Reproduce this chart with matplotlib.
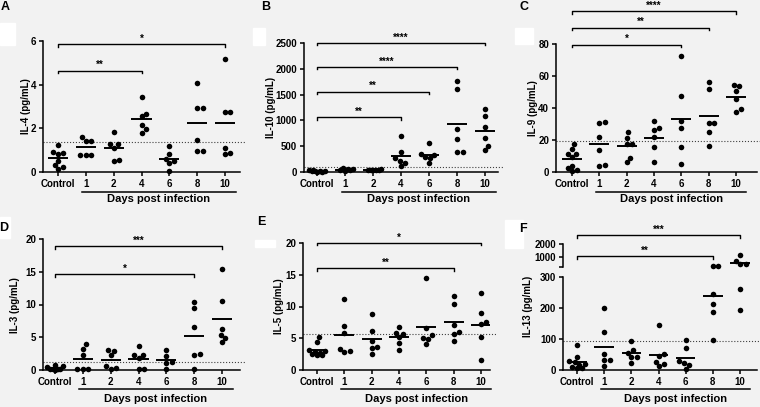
import numpy as np
import matplotlib
matplotlib.use("Agg")
import matplotlib.pyplot as plt
from matplotlib.patches import Rectangle
from matplotlib.transforms import blended_transform_factory

# x categories
days = ["Control", "1", "2", "4", "6", "8", "10"]

# values per group (Control, day 1, 2, 4, 6, 8, 10)
il4 = [[1.22, 0.90, 0.88, 0.84, 0.52, 0.32, 0.24, 0.12],
       [1.60, 1.41, 1.40, 0.80, 0.80, 0.80],
       [1.85, 1.26, 1.26, 1.08, 0.56, 0.50],
       [3.42, 2.66, 2.55, 2.13, 1.95, 1.79],
       [1.19, 0.81, 0.61, 0.50, 0.41, 0.05],
       [4.09, 2.95, 2.95, 1.47, 0.96, 0.96],
       [5.17, 2.77, 2.74, 1.12, 0.87, 0.81]]
il10 = [[40, 30, 25, 20, 15, 10, 8, 5],
        [70, 60, 50, 45, 30, 20],
        [55, 45, 45, 45, 30, 30],
        [695, 395, 265, 215, 175, 110],
        [570, 340, 330, 300, 270, 165],
        [1760, 1610, 825, 630, 395, 395],
        [1227, 1078, 870, 662, 513, 422]]
il9 = [[17.5, 14.3, 11.5, 11.5, 9.5, 4.0, 2.5, 1.0, 0.5],
       [31.0, 30.6, 21.6, 13.9, 4.4, 3.5],
       [24.7, 21.4, 17.7, 17.7, 8.9, 6.0],
       [31.6, 27.4, 26.0, 21.8, 15.4, 6.4],
       [72.8, 47.6, 31.8, 27.4, 15.6, 4.8],
       [56.3, 52.0, 30.4, 30.4, 24.9, 16.4],
       [54.3, 53.6, 50.9, 45.5, 39.1, 37.4]]
il3 = [[0.8, 0.6, 0.5, 0.2, 0.2, 0.1, 0.1, 0.05],
       [4.0, 3.27, 2.24, 0.1, 0.1, 0.1],
       [3.0, 2.9, 2.24, 0.66, 0.3, 0.15],
       [3.72, 2.3, 2.24, 1.89, 0.1, 0.1],
       [3.06, 2.14, 1.22, 1.02, 0.1],
       [10.4, 9.4, 6.6, 2.5, 2.3, 0.1],
       [15.4, 10.5, 6.3, 5.4, 4.9, 4.2]]
il5 = [[5.2, 4.4, 3.2, 3.0, 2.8, 2.6, 2.5, 2.4, 2.3],
       [11.16, 6.9, 5.8, 3.3, 3.0, 2.8],
       [8.8, 6.2, 4.6, 3.6, 3.4, 2.5],
       [6.7, 5.9, 5.7, 5.2, 4.3, 3.16],
       [14.5, 6.6, 5.5, 5.0, 4.9, 4.1],
       [11.7, 10.4, 7.1, 6.05, 5.7, 4.5],
       [12.1, 9.05, 7.5, 7.3, 5.16, 1.6]]
il13 = [[80, 42, 28, 25, 20, 15, 10, 8, 5],
        [200, 122, 53, 33, 33, 12],
        [92, 64, 56, 43, 43, 23],
        [146, 50, 46, 27, 18, 12],
        [98, 72, 29, 24, 16, 2],
        [375, 325, 243, 212, 186, 96],
        [1200, 750, 500, 500, 260, 193]]

# detection limits (dotted lines)
limits = {"A": 1.38, "B": 104, "C": 19.5, "D": 1.17, "E": 5.63, "F": 92}

# significance brackets: (group a, group b, height, stars)
sig_a = [(0, 3, 4.64, "**"), (0, 6, 5.85, "*")]
sig_b = [(0, 3, 1060, "**"), (0, 4, 1560, "**"), (0, 5, 2035, "****"), (0, 6, 2500, "****")]
sig_c = [(0, 4, 79.6, "*"), (0, 5, 90.2, "**"), (0, 6, 100.4, "****")]
sig_d = [(0, 5, 14.6, "*"), (0, 6, 18.9, "***")]
sig_e = [(0, 5, 16.05, "**"), (0, 6, 20.0, "*")]
sig_f = [(0, 5, 1090, "**"), (0, 6, 2620, "***")]

BG = "#f2f2f2"
W, H = 760, 407
plt.rcParams["font.family"] = ["Liberation Sans", "DejaVu Sans"]
plt.rcParams["font.weight"] = "bold"

fig = plt.figure(figsize=(7.6, 4.07), dpi=100, facecolor=BG)

# white patches present in the original scan
for x0, y0, x1, y1 in [(0, 23, 15, 45), (253, 28, 265, 45), (515, 28, 533, 44),
                       (0, 217, 10, 238), (255, 240, 275, 247), (505, 220, 523, 248)]:
    fig.patches.append(Rectangle((x0 / W, 1 - y1 / H), (x1 - x0) / W, (y1 - y0) / H,
                                 transform=fig.transFigure, color="white", zorder=0))


def make_axes(left, right, top, bottom, c0, c6):
    ax = fig.add_axes([left / W, 1 - bottom / H, (right - left) / W, (bottom - top) / H])
    sp = (c6 - c0) / 6
    ax.set_xlim((left - c0) / sp, (right - c0) / sp)
    ax.set_facecolor("none")
    for s in ["top", "right"]:
        ax.spines[s].set_visible(False)
    for s in ["left", "bottom"]:
        ax.spines[s].set_linewidth(1.1)
    ax.tick_params(axis="both", width=1.1, length=3, labelsize=7, pad=2)
    ax.set_xticks(range(len(days)))
    ax.set_xticklabels(days)
    return ax


def swarm_offsets(ax, x, vals, dmin=5.5, maxoff=8.0):
    pts = ax.transData.transform(np.column_stack([np.full(len(vals), x), vals]))
    ys = pts[:, 1]
    placed = []
    offs = np.zeros(len(vals))
    grid = np.arange(-maxoff, maxoff + 0.01, 0.5)
    for i in np.argsort(ys):
        y = ys[i]
        cands = [0.0]
        for px, py in placed:
            dy = y - py
            if abs(dy) < dmin:
                dx = np.sqrt(dmin ** 2 - dy ** 2)
                cands += [px + dx, px - dx]
        chosen = None
        for c in sorted(cands, key=abs):
            if abs(c) > maxoff + 1e-9:
                continue
            if all((c - px) ** 2 + (y - py) ** 2 >= dmin ** 2 - 1e-6 for px, py in placed):
                chosen = c
                break
        if chosen is None:
            chosen = max(grid, key=lambda c: min((c - px) ** 2 + (y - py) ** 2 for px, py in placed))
        offs[i] = chosen
        placed.append((chosen, y))
    unit = ax.transData.transform((1, 0))[0] - ax.transData.transform((0, 0))[0]
    return offs / unit


def dots(ax, i, vals):
    if len(vals) == 0:
        return
    off = swarm_offsets(ax, i, vals)
    ax.scatter(i + off, vals, s=16, color="black", linewidths=0, zorder=3, clip_on=False)


def mean_bar(ax, i, m):
    ax.hlines(m, i - 0.36, i + 0.36, color="black", lw=1.4, zorder=2)


def bracket(ax, a, b, y, label):
    lo, hi = ax.get_ylim()
    t = 2.5 * (hi - lo) / ax.bbox.height
    ax.plot([a, a, b, b], [y - t, y, y, y - t], color="black", lw=1.0, clip_on=False)
    ax.annotate(label, ((a + b) / 2, y), xytext=(0, 0.3), textcoords="offset points",
                ha="center", va="bottom", fontsize=7, annotation_clip=False)


def days_label(ax, y_line, y_text):
    tr = blended_transform_factory(ax.transData, fig.transFigure)
    ax.plot([0.88, 6.38], [1 - y_line / H] * 2, transform=tr, color="black", lw=1.1, clip_on=False)
    ax.text(3.63, 1 - y_text / H, "Days post infection", transform=tr, ha="center",
            va="center", fontsize=8, weight="bold")


def panel(ax, groups, ylim, yticks, limit, sigs, ylab, lab_xy, letter, letter_xy, y_line, y_text):
    ax.set_ylim(*ylim)
    ax.set_yticks(yticks)
    for i, g in enumerate(groups):
        dots(ax, i, g)
        mean_bar(ax, i, np.mean(g))
    ax.axhline(limit, ls=":", lw=0.8, color="0.25", zorder=1, clip_on=False, xmax=1.03)
    for a, b, y, s in sigs:
        bracket(ax, a, b, y, s)
    fig.text(lab_xy[0] / W, 1 - lab_xy[1] / H, ylab, rotation=90, ha="center", va="center",
             fontsize=7, weight="bold")
    fig.text(letter_xy[0] / W, 1 - letter_xy[1] / H, letter, ha="center", va="center",
             fontsize=9, weight="bold")
    days_label(ax, y_line, y_text)


axA = make_axes(43, 240, 41, 172, 58, 225)
panel(axA, il4, (0, 6), [0, 2, 4, 6], limits["A"], sig_a, "IL-4 (pg/mL)", (26, 106),
      "A", (5, 7), 192, 199)

axB = make_axes(304, 498, 43, 172, 317, 485)
panel(axB, il10, (0, 2500), range(0, 2501, 500), limits["B"], sig_b, "IL-10 (pg/mL)", (271, 107),
      "B", (266, 7), 192, 199)

axC = make_axes(556, 757, 44, 172, 572, 736)
panel(axC, il9, (0, 80), range(0, 81, 20), limits["C"], sig_c, "IL-9 (pg/mL)", (533, 108),
      "C", (524, 7), 192, 199)

axD = make_axes(43, 240, 239, 370, 55, 222)
panel(axD, il3, (0, 20), range(0, 21, 5), limits["D"], sig_d, "IL-3 (pg/mL)", (15, 305),
      "D", (4, 228), 389, 399)

axE = make_axes(303, 490, 243, 370, 317, 481)
panel(axE, il5, (0, 20), range(0, 21, 5), limits["E"], sig_e, "IL-5 (pg/mL)", (279, 306),
      "E", (261, 222), 389, 399)

# panel F: broken y axis (0-300 below, 300-2000 above)
BREAK = 300
axF = make_axes(563, 757, 276.7, 370, 577, 740)
axF.set_ylim(0, BREAK)
axF.set_yticks([0, 100, 200, 300])
axFu = make_axes(563, 757, 243.7, 266.7, 577, 740)
axFu.set_ylim(BREAK, 2000)
axFu.set_yticks([300, 1000, 2000])
axFu.set_yticklabels(["", "1000", "2000"])
axFu.spines["bottom"].set_visible(False)
axFu.tick_params(axis="x", bottom=False, labelbottom=False)
for i, g in enumerate(il13):
    g = np.array(g, dtype=float)
    dots(axF, i, g[g <= BREAK])
    dots(axFu, i, g[g > BREAK])
    m = g.mean()
    mean_bar(axF if m <= BREAK else axFu, i, m)
axF.axhline(limits["F"], ls=":", lw=0.8, color="0.25", zorder=1, clip_on=False, xmax=1.03)
for a, b, y, s in sig_f:
    bracket(axFu, a, b, y, s)
fig.text(528 / W, 1 - 306 / H, "IL-13 (pg/mL)", rotation=90, ha="center", va="center",
         fontsize=7, weight="bold")
fig.text(523 / W, 1 - 229 / H, "F", ha="center", va="center", fontsize=9, weight="bold")
days_label(axF, 389, 399)

fig.savefig("out.png", dpi=100, facecolor=BG)
